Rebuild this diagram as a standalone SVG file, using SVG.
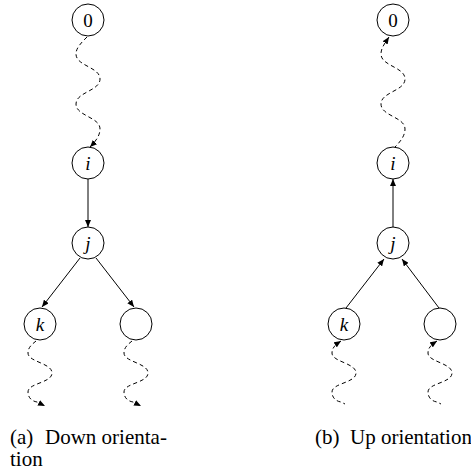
<svg xmlns="http://www.w3.org/2000/svg" width="471" height="475" viewBox="0 0 471 475">
<style>
.node circle{fill:#fff;stroke:#000;stroke-width:1}
.lbl{font-family:"Liberation Serif","Times New Roman",serif;font-size:19px;font-style:italic;text-anchor:middle;fill:#000}
.num{font-style:normal}
.edge{fill:none;stroke:#000;stroke-width:1}
.wave{fill:none;stroke:#000;stroke-width:1;stroke-dasharray:4 3}
.cap{font-family:"Liberation Serif","Times New Roman",serif;font-size:21px;fill:#000}
</style>
<defs>
<marker id="arr" viewBox="0 0 7 6" refX="7" refY="3" markerWidth="7" markerHeight="6" markerUnits="userSpaceOnUse" orient="auto-start-reverse">
<path d="M0,0 L7,3 L0,6 z" fill="#000"/>
</marker>
<path id="bigwave" d="M87,37 C81,43 76,48 76,54 C76,66 100,67 100,79 C100,91 76,92 76,104 C76,116 100,117 100,129 C100,136 95,142 90,147"/>
<path id="smallwave" d="M-4,341 C-9,345 -12,348 -12,353 C-12,362 12,363 12,373 C12,383 -12,383 -12,392 C-12,397 -9,400.5 -4,400.5 L4,405"/>
</defs>
<g id="connectors">
<!-- (a) down orientation -->
<path class="wave" d="M87,37 C81,43 76,48 76,54 C76,66 100,67 100,79 C100,91 76,92 76,104 C76,116 100,117 100,129 C100,136 95,142 90,147" marker-end="url(#arr)"/>
<path class="edge" d="M88,179 L88,227" marker-end="url(#arr)"/>
<path class="edge" d="M80,258 L42,307" marker-end="url(#arr)"/>
<path class="edge" d="M96,258 L134,307" marker-end="url(#arr)"/>
<path class="wave" transform="translate(40,0)" d="M-4,341 C-9,345 -12,348 -12,353 C-12,362 12,363 12,373 C12,383 -12,383 -12,392 C-12,397 -9,401 -3,402 L5,406" marker-end="url(#arr)"/>
<path class="wave" transform="translate(136,0)" d="M-4,341 C-9,345 -12,348 -12,353 C-12,362 12,363 12,373 C12,383 -12,383 -12,392 C-12,397 -9,401 -3,402 L5,406" marker-end="url(#arr)"/>
<!-- (b) up orientation -->
<path class="wave" d="M389,37 C385,43 381,48 381,54 C381,66 405,67 405,79 C405,91 381,92 381,104 C381,116 405,117 405,129 C405,136 400,142 395,147" marker-start="url(#arr)"/>
<path class="edge" d="M393,227 L393,179" marker-end="url(#arr)"/>
<path class="edge" d="M346,308 L384,259" marker-end="url(#arr)"/>
<path class="edge" d="M439,308 L402,259" marker-end="url(#arr)"/>
<path class="wave" transform="translate(344,0)" d="M-3,341 C-9,345 -12,348 -12,353 C-12,362 12,363 12,373 C12,383 -12,383 -12,392 C-12,397 -9,401 -3,402 L1,404" marker-start="url(#arr)"/>
<path class="wave" transform="translate(440,0)" d="M-3,341 C-9,345 -12,348 -12,353 C-12,362 12,363 12,373 C12,383 -12,383 -12,392 C-12,397 -9,401 -3,402 L1,404" marker-start="url(#arr)"/>
</g>
<g id="a0" class="node"><circle cx="88" cy="20" r="16"/><text class="lbl num" x="88" y="27">0</text></g>
<g id="ai" class="node"><circle cx="88" cy="163" r="16"/><text class="lbl" x="88" y="170">i</text></g>
<g id="aj" class="node"><circle cx="88" cy="243" r="16"/><text class="lbl" x="88" y="250">j</text></g>
<g id="ak" class="node"><circle cx="40" cy="324" r="16"/><text class="lbl" x="40" y="331">k</text></g>
<g id="ae" class="node"><circle cx="136" cy="324" r="16"/></g>
<g id="b0" class="node"><circle cx="393" cy="20" r="16"/><text class="lbl num" x="393" y="27">0</text></g>
<g id="bi" class="node"><circle cx="393" cy="163" r="16"/><text class="lbl" x="393" y="170">i</text></g>
<g id="bj" class="node"><circle cx="393" cy="243" r="16"/><text class="lbl" x="393" y="250">j</text></g>
<g id="bk" class="node"><circle cx="344" cy="324" r="16"/><text class="lbl" x="344" y="331">k</text></g>
<g id="be" class="node"><circle cx="440" cy="324" r="16"/></g>
<g id="captions">
<text class="cap" y="444"><tspan x="10">(a)</tspan><tspan x="45">Down orienta-</tspan></text>
<text class="cap" x="10" y="466">tion</text>
<text class="cap" y="444"><tspan x="315">(b)</tspan><tspan x="350">Up orientation</tspan></text>
</g>
</svg>
